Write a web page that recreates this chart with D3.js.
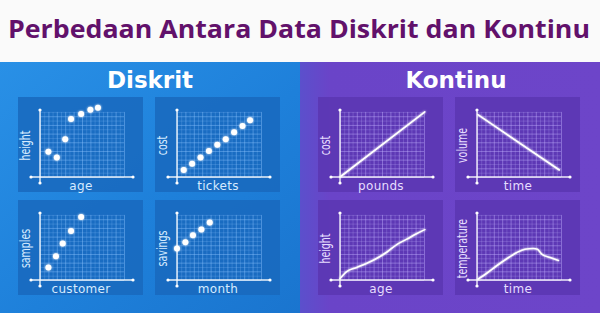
<!DOCTYPE html>
<html>
<head>
<meta charset="utf-8">
<script src="https://cdn.jsdelivr.net/npm/d3@7"></script>
<style>
  body { margin: 0; background: #fafafa; }
  svg { display: block; }
</style>
</head>
<body>
<div id="chart"></div>
<script>
  // text
  const title = "Perbedaan Antara Data Diskrit dan Kontinu";
  const panelTitles = ["Diskrit", "Kontinu"];
  const xLabels = ["age", "tickets", "customer", "month", "pounds", "time", "age", "time"];
  const yLabels = ["height", "cost", "samples", "savings", "cost", "volume", "height", "temperature"];

  // diskrit (dots), values, 0..10
  const ageX = [1.0, 2.0, 3.0, 3.7, 4.9, 6.0, 6.9];
  const heightY = [3.6, 2.8, 5.4, 8.3, 9.0, 9.6, 9.9];
  const ticketsX = [0.8, 1.8, 2.8, 3.8, 4.8, 5.8, 6.8, 7.8, 8.7];
  const costY = [1.0, 1.9, 2.8, 3.7, 4.6, 5.4, 6.4, 7.3, 8.1];
  const customerX = [1.0, 1.9, 2.7, 3.7, 4.9];
  const samplesY = [1.8, 3.4, 5.2, 7.0, 9.0];
  const monthX = [0.0, 1.0, 1.9, 2.9, 3.9];
  const savingsY = [4.5, 5.4, 6.4, 7.2, 8.2];

  // kontinu (lines)
  const poundsX = [0, 10.1];
  const poundsCostY = [0, 9.3];
  const timeX = [0.1, 9.8];
  const volumeY = [8.9, 1.0];
  const ageLineX = [0, 0.8, 2.0, 3.2, 4.4, 5.6, 6.8, 7.9, 9.1, 10.1];
  const heightLineY = [0.2, 1.2, 1.8, 2.4, 3.1, 4.0, 5.1, 5.8, 6.6, 7.2];
  const tempTimeX = [0.1, 1.2, 2.3, 3.5, 4.7, 5.7, 6.7, 7.2, 7.7, 8.7, 9.7];
  const temperatureY = [0.1, 1.0, 2.0, 3.0, 3.9, 4.4, 4.5, 4.4, 3.7, 3.2, 2.8];

  const xsList = [ageX, ticketsX, customerX, monthX, poundsX, timeX, ageLineX, tempTimeX];
  const ysList = [heightY, costY, samplesY, savingsY, poundsCostY, volumeY, heightLineY, temperatureY];

  const width = 600, height = 313;

  const svg = d3.select("#chart").append("svg")
    .attr("width", width).attr("height", height);

  const defs = svg.append("defs");
  const gBlue = defs.append("linearGradient").attr("id", "blue")
    .attr("x1", 0).attr("y1", 0).attr("x2", 1).attr("y2", 1);
  gBlue.append("stop").attr("offset", "0%").attr("stop-color", "#2990e6");
  gBlue.append("stop").attr("offset", "55%").attr("stop-color", "#1e80da");
  gBlue.append("stop").attr("offset", "100%").attr("stop-color", "#1a75cf");
  const gPurple = defs.append("linearGradient").attr("id", "purple")
    .attr("x1", 0).attr("y1", 0).attr("x2", 1).attr("y2", 0);
  gPurple.append("stop").attr("offset", "0%").attr("stop-color", "#5b50cc");
  gPurple.append("stop").attr("offset", "10%").attr("stop-color", "#6a44c8");
  gPurple.append("stop").attr("offset", "100%").attr("stop-color", "#6d45c9");
  const glow = defs.append("filter").attr("id", "glow")
    .attr("x", "-50%").attr("y", "-50%").attr("width", "200%").attr("height", "200%");
  glow.append("feGaussianBlur").attr("stdDeviation", 1.2).attr("result", "b");
  const mrg = glow.append("feMerge");
  mrg.append("feMergeNode").attr("in", "b");
  mrg.append("feMergeNode").attr("in", "SourceGraphic");

  // title strip
  svg.append("rect").attr("width", width).attr("height", 62).attr("fill", "#fafafa");
  svg.append("text")
    .attr("x", 8).attr("y", 38)
    .attr("textLength", 582).attr("lengthAdjust", "spacingAndGlyphs")
    .attr("font-family", "'Open Sans', 'DejaVu Sans', sans-serif")
    .attr("font-weight", 700).attr("font-size", 25)
    .attr("fill", "#62116b")
    .text(title);

  // panels
  const panels = [
    { x: 0, fill: "url(#blue)", box: "#1968bd", grid: "#8cc4ff", label: "#d6ebff", tx: 150 },
    { x: 300, fill: "url(#purple)", box: "#5a36b2", grid: "#c4b4ff", label: "#e6ddff", tx: 456 }
  ];
  panels.forEach((p, i) => {
    svg.append("rect").attr("x", p.x).attr("y", 62).attr("width", 300).attr("height", height - 62)
      .attr("fill", p.fill);
    svg.append("text")
      .attr("x", p.tx).attr("y", 88)
      .attr("text-anchor", "middle")
      .attr("font-family", "'DejaVu Sans', sans-serif")
      .attr("font-weight", "bold").attr("font-size", 23)
      .attr("fill", "#ffffff")
      .text(panelTitles[i]);
  });

  const boxX = [18, 155];
  const boxY = [97, 200];
  const line = d3.line().curve(d3.curveMonotoneX);

  xsList.forEach((xs, k) => {
    const panel = Math.floor(k / 4);
    const p = panels[panel];
    const row = Math.floor((k % 4) / 2), col = k % 2;
    const bx = panel * 300 + boxX[col], by = boxY[row];
    const ax = bx + 22, ay = by + 80;

    const g = svg.append("g");
    g.append("rect").attr("x", bx).attr("y", by).attr("width", 125).attr("height", 95)
      .attr("fill", p.box).attr("opacity", 0.85);

    const x = d3.scaleLinear().domain([0, 10]).range([ax, ax + 84]);
    const y = d3.scaleLinear().domain([0, 10]).range([ay, ay - 70]);

    // grid via axes
    const gx = g.append("g").attr("transform", `translate(0,${ay})`)
      .call(d3.axisBottom(x).tickValues(d3.range(0, 10.01, 0.5)).tickSize(-y(0) + y(9.3)).tickFormat(""));
    const gy = g.append("g").attr("transform", `translate(${ax},0)`)
      .call(d3.axisLeft(y).tickValues(d3.range(0, 9.31, 0.62)).tickSize(-84).tickFormat(""));
    [gx, gy].forEach(a => {
      a.select(".domain").remove();
      a.selectAll(".tick line")
        .attr("stroke", p.grid)
        .attr("stroke-width", 0.8)
        .attr("opacity", (d, i) => i % 2 === 0 ? 0.55 : 0.28);
    });

    // main axes
    g.append("line").attr("x1", ax).attr("x2", ax).attr("y1", by + 13).attr("y2", by + 86)
      .attr("stroke", "#ffffff").attr("stroke-width", 1.4).attr("opacity", 0.9);
    g.append("line").attr("x1", bx + 13).attr("x2", bx + 115).attr("y1", ay).attr("y2", ay)
      .attr("stroke", "#ffffff").attr("stroke-width", 1.4).attr("opacity", 0.9);
    [[ax, by + 13], [ax, by + 86], [bx + 13, ay], [bx + 115, ay]].forEach(([cx, cy]) => {
      g.append("circle").attr("cx", cx).attr("cy", cy).attr("r", 1.6).attr("fill", "#ffffff");
    });

    // labels
    g.append("text")
      .attr("x", bx + 63).attr("y", ay + 12.5)
      .attr("text-anchor", "middle")
      .attr("font-family", "'DejaVu Sans', sans-serif")
      .attr("font-size", 12).attr("letter-spacing", 0.3)
      .attr("fill", p.label)
      .text(xLabels[k]);
    g.append("text")
      .attr("transform", `translate(${bx + 11.5},${by + 48.5}) rotate(-90) scale(0.7,1)`)
      .attr("text-anchor", "middle")
      .attr("font-family", "'DejaVu Sans', sans-serif")
      .attr("font-size", 13.5)
      .attr("fill", p.label)
      .text(yLabels[k]);

    const pts = xs.map((v, i) => [x(v), y(ysList[k][i])]);
    if (panel === 0) {
      g.selectAll("circle.dot").data(pts).join("circle")
        .attr("class", "dot")
        .attr("cx", d => d[0]).attr("cy", d => d[1])
        .attr("r", 3).attr("fill", "#ffffff")
        .attr("filter", "url(#glow)");
    } else {
      g.append("path").attr("d", line(pts))
        .attr("fill", "none").attr("stroke", "#ffffff")
        .attr("stroke-width", 1.6).attr("stroke-linecap", "round")
        .attr("filter", "url(#glow)");
    }
  });
</script>
</body>
</html>
